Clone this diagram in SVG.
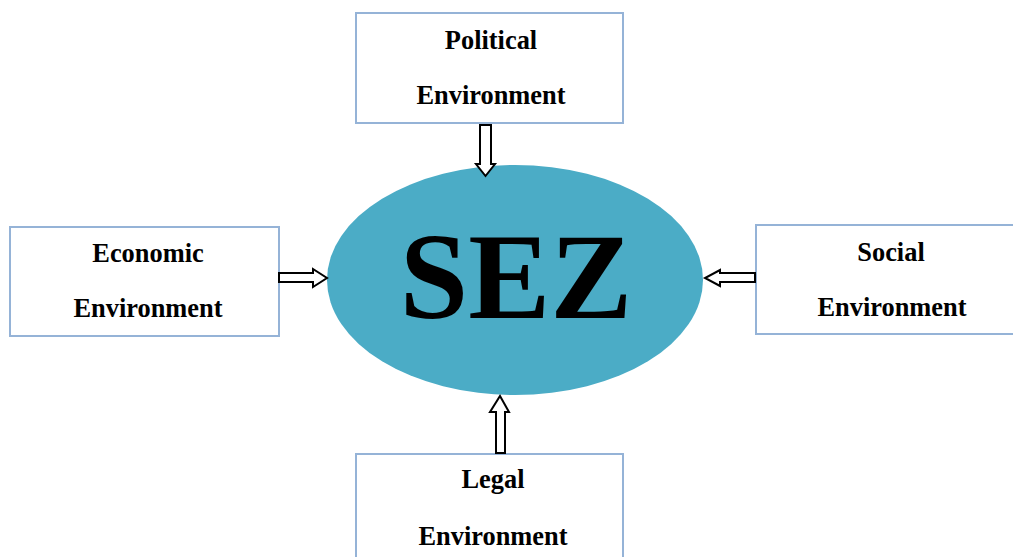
<svg xmlns="http://www.w3.org/2000/svg" width="1013" height="557" viewBox="0 0 1013 557">
<style>
.box{fill:#fff;stroke:#95b3d7;stroke-width:2}
.lbl{font-family:"Liberation Serif",serif;font-weight:bold;font-size:26.4px;fill:#000;text-anchor:middle}
.arr{fill:#fff;stroke:#000;stroke-width:2;stroke-linejoin:miter}
</style>
<rect width="1013" height="557" fill="#fff"/>
<g id="sez">
<ellipse cx="515" cy="280" rx="188" ry="115" fill="#4bacc6"/>
<text x="516" y="318" font-family="Liberation Serif,serif" font-weight="bold" font-size="123" text-anchor="middle" fill="#000">SEZ</text>
</g>
<g id="political">
<rect class="box" x="356" y="13" width="267" height="110"/>
<text class="lbl" x="491" y="49">Political</text>
<text class="lbl" x="491" y="104">Environment</text>
</g>
<g id="economic">
<rect class="box" x="10" y="227" width="269" height="109"/>
<text class="lbl" x="148" y="262">Economic</text>
<text class="lbl" x="148" y="317">Environment</text>
</g>
<g id="social">
<rect class="box" x="756" y="225" width="262" height="109"/>
<text class="lbl" x="891" y="261">Social</text>
<text class="lbl" x="892" y="316">Environment</text>
</g>
<g id="legal">
<rect class="box" x="356" y="454" width="267" height="110"/>
<text class="lbl" x="493" y="488">Legal</text>
<text class="lbl" x="493" y="545">Environment</text>
</g>
<g id="connectors">
<polygon class="arr" points="480,125 491,125 491,164 495,164 485.5,176 476,164 480,164"/>
<polygon class="arr" points="279,273 313,273 313,269 327,278 313,287 313,282 279,282"/>
<polygon class="arr" points="755,273 720,273 720,270 705,278 720,286 720,282 755,282"/>
<polygon class="arr" points="496,453 505,453 505,412 509,412 500,396 490,412 496,412"/>
</g>
</svg>
